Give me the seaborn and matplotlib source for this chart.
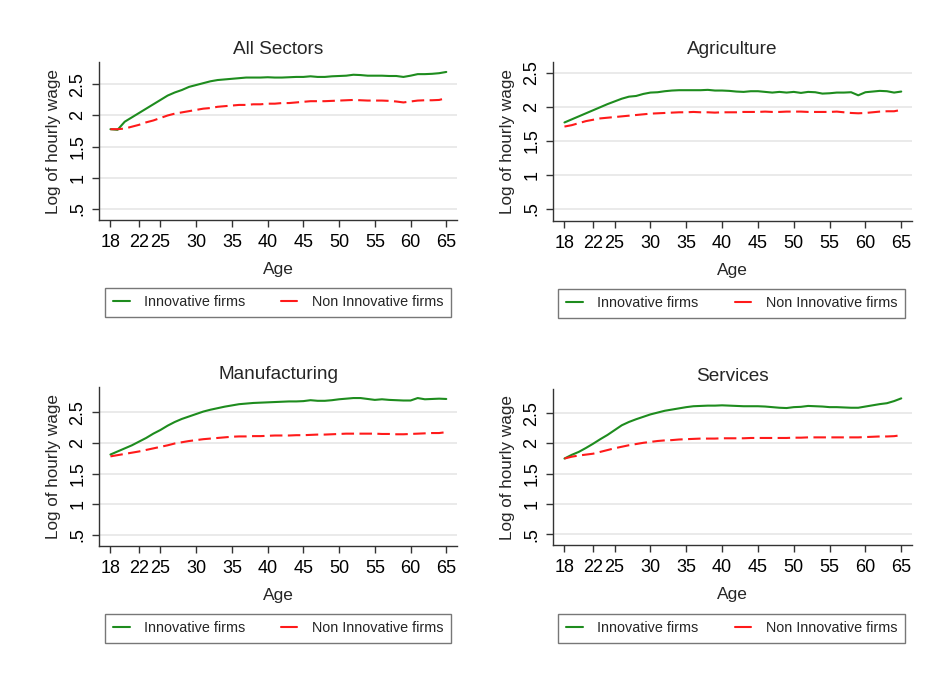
import numpy as np
import pandas as pd
import matplotlib
matplotlib.use("Agg")
import matplotlib.pyplot as plt
import seaborn as sns
from matplotlib.lines import Line2D

ages = list(range(18, 66))

sectors = ["All Sectors", "Agriculture", "Manufacturing", "Services"]
groups = ["Innovative firms", "Non Innovative firms"]

all_innov = [1.78, 1.77, 1.90, 1.97, 2.04, 2.11, 2.18, 2.25, 2.32, 2.37, 2.41, 2.46,
             2.49, 2.52, 2.55, 2.57, 2.58, 2.59, 2.60, 2.61, 2.61, 2.61, 2.615, 2.61,
             2.61, 2.615, 2.62, 2.62, 2.63, 2.62, 2.62, 2.63, 2.635, 2.64, 2.655, 2.65,
             2.64, 2.64, 2.64, 2.635, 2.635, 2.62, 2.64, 2.665, 2.665, 2.67, 2.68, 2.70]
all_non = [1.78, 1.78, 1.79, 1.82, 1.85, 1.89, 1.92, 1.96, 2.00, 2.03, 2.05, 2.07,
           2.09, 2.11, 2.12, 2.14, 2.15, 2.16, 2.17, 2.17, 2.18, 2.18, 2.19, 2.19,
           2.20, 2.20, 2.21, 2.22, 2.23, 2.23, 2.23, 2.235, 2.24, 2.245, 2.25, 2.245,
           2.24, 2.24, 2.24, 2.235, 2.225, 2.21, 2.225, 2.24, 2.245, 2.245, 2.25, 2.28]

agr_innov = [1.77, 1.815, 1.86, 1.905, 1.95, 1.995, 2.04, 2.08, 2.12, 2.15, 2.16, 2.19,
             2.21, 2.215, 2.23, 2.24, 2.245, 2.245, 2.245, 2.245, 2.25, 2.24, 2.24, 2.235,
             2.225, 2.22, 2.23, 2.23, 2.22, 2.21, 2.22, 2.21, 2.22, 2.205, 2.22, 2.215,
             2.195, 2.20, 2.21, 2.21, 2.215, 2.17, 2.215, 2.225, 2.235, 2.23, 2.21, 2.225]
agr_non = [1.71, 1.73, 1.76, 1.79, 1.81, 1.83, 1.84, 1.85, 1.86, 1.87, 1.88, 1.89,
           1.90, 1.905, 1.91, 1.915, 1.92, 1.92, 1.925, 1.92, 1.92, 1.915, 1.92, 1.92,
           1.92, 1.925, 1.925, 1.925, 1.93, 1.925, 1.925, 1.93, 1.93, 1.93, 1.925, 1.925,
           1.925, 1.925, 1.93, 1.92, 1.91, 1.905, 1.91, 1.92, 1.93, 1.935, 1.935, 1.955]

man_innov = [1.81, 1.86, 1.91, 1.96, 2.02, 2.08, 2.15, 2.21, 2.28, 2.34, 2.39, 2.43,
             2.47, 2.51, 2.54, 2.565, 2.59, 2.61, 2.63, 2.64, 2.65, 2.655, 2.66, 2.665,
             2.67, 2.675, 2.675, 2.68, 2.695, 2.685, 2.685, 2.695, 2.71, 2.72, 2.73, 2.73,
             2.715, 2.70, 2.71, 2.70, 2.695, 2.69, 2.69, 2.73, 2.71, 2.715, 2.72, 2.715]
man_non = [1.78, 1.80, 1.82, 1.84, 1.86, 1.885, 1.91, 1.935, 1.96, 1.99, 2.01, 2.03,
           2.045, 2.06, 2.07, 2.08, 2.09, 2.10, 2.105, 2.105, 2.11, 2.11, 2.115, 2.12,
           2.12, 2.12, 2.125, 2.125, 2.13, 2.135, 2.135, 2.14, 2.145, 2.15, 2.15, 2.15,
           2.15, 2.15, 2.145, 2.145, 2.14, 2.14, 2.145, 2.15, 2.155, 2.16, 2.16, 2.175]

ser_innov = [1.75, 1.81, 1.86, 1.925, 1.995, 2.07, 2.14, 2.22, 2.30, 2.355, 2.40, 2.44,
             2.48, 2.51, 2.54, 2.56, 2.58, 2.60, 2.615, 2.62, 2.625, 2.625, 2.63, 2.625,
             2.62, 2.615, 2.615, 2.615, 2.61, 2.60, 2.59, 2.585, 2.60, 2.605, 2.62, 2.615,
             2.61, 2.60, 2.60, 2.595, 2.59, 2.59, 2.61, 2.63, 2.65, 2.665, 2.70, 2.745]
ser_non = [1.75, 1.78, 1.80, 1.815, 1.83, 1.86, 1.89, 1.92, 1.945, 1.97, 1.99, 2.01,
           2.025, 2.04, 2.05, 2.055, 2.065, 2.07, 2.075, 2.08, 2.08, 2.08, 2.085, 2.085,
           2.085, 2.085, 2.09, 2.09, 2.09, 2.09, 2.09, 2.09, 2.095, 2.095, 2.10, 2.10,
           2.10, 2.10, 2.10, 2.10, 2.10, 2.10, 2.105, 2.11, 2.115, 2.115, 2.12, 2.135]

series = {
    "All Sectors": (all_innov, all_non),
    "Agriculture": (agr_innov, agr_non),
    "Manufacturing": (man_innov, man_non),
    "Services": (ser_innov, ser_non),
}

x_ticks = [18, 22, 25, 30, 35, 40, 45, 50, 55, 60, 65]
y_ticks = [0.5, 1, 1.5, 2, 2.5]
y_tick_labels = [".5", "1", "1.5", "2", "2.5"]

GREEN = "#1e8c1e"
RED = "#ff1a1a"

sns.set_theme(style="white")
plt.rcParams["font.family"] = ["Liberation Sans", "DejaVu Sans"]

fig = plt.figure(figsize=(9.3, 6.81), dpi=100)
W, H = 930.0, 681.0

# axes boxes in pixels: left, top, right, bottom
boxes = {
    "All Sectors": (99, 62, 457, 220),
    "Agriculture": (553, 62, 912, 221),
    "Manufacturing": (99, 387, 457, 546),
    "Services": (553, 389, 912, 545),
}
ytops = {"All Sectors": 2.86, "Agriculture": 2.66, "Manufacturing": 2.91, "Services": 2.90}
legend_boxes = {
    "All Sectors": (105, 286, 451, 319),
    "Agriculture": (558, 287, 905, 320),
    "Manufacturing": (105, 612, 451, 645),
    "Services": (558, 612, 905, 645),
}

for name in sectors:
    l, t, r, b = boxes[name]
    ax = fig.add_axes([l / W, 1 - b / H, (r - l) / W, (b - t) / H])
    innov, non = series[name]
    df = pd.DataFrame({
        "age": ages * 2,
        "wage": list(innov) + list(non),
        "group": [groups[0]] * len(ages) + [groups[1]] * len(ages),
    })
    sns.lineplot(data=df, x="age", y="wage", hue="group", style="group",
                 palette={groups[0]: GREEN, groups[1]: RED},
                 dashes={groups[0]: "", groups[1]: (6, 2.6)},
                 linewidth=1.5, legend=False, ax=ax)
    ax.set_xlim(16.4, 66.5)
    ax.set_ylim(0.32, ytops[name])
    ax.set_xticks(x_ticks)
    ax.set_xticklabels([str(v) for v in x_ticks], fontsize=13)
    ax.set_yticks(y_ticks)
    ax.set_yticklabels(y_tick_labels, fontsize=13, rotation=90, va="center")
    ax.yaxis.grid(True, color="#e6e6e6", linewidth=1.2)
    ax.xaxis.grid(False)
    ax.set_axisbelow(True)
    for side in ["top", "right"]:
        ax.spines[side].set_visible(False)
    for side in ["left", "bottom"]:
        ax.spines[side].set_color("#333333")
        ax.spines[side].set_linewidth(1.0)
    ax.tick_params(axis="both", direction="out", length=5, width=1.0,
                   color="#333333", labelcolor="black", bottom=True, left=True)
    ax.tick_params(axis="x", pad=5)
    ax.tick_params(axis="y", pad=4)
    ax.set_xlabel("Age", fontsize=12.5, labelpad=8)
    ax.set_ylabel("Log of hourly wage", fontsize=12.3, labelpad=6)
    ax.set_title(name, fontsize=13.7, pad=6)

    lx0, ly0, lx1, ly1 = legend_boxes[name]
    handles = [Line2D([0], [0], color=GREEN, lw=1.5),
               Line2D([0], [0], color=RED, lw=1.5)]
    leg = fig.legend(handles, groups, ncol=2, mode="expand",
                     bbox_to_anchor=(lx0 / W, 1 - ly1 / H, (lx1 - lx0) / W, (ly1 - ly0) / H),
                     loc="center", fontsize=10.4, frameon=True, fancybox=False,
                     handlelength=1.15, handletextpad=1.0, borderaxespad=0,
                     borderpad=0.55)
    leg.get_frame().set_edgecolor("#555555")
    leg.get_frame().set_linewidth(1.0)

fig.savefig("out.png", dpi=100, facecolor="white")
